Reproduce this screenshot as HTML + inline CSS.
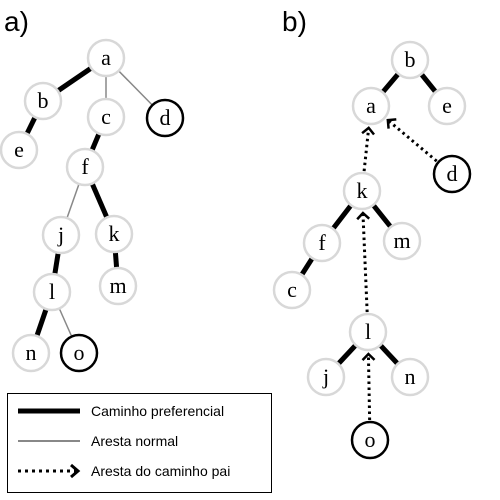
<!DOCTYPE html>
<html><head><meta charset="utf-8"><style>
html,body{margin:0;padding:0;background:#fff;width:500px;height:500px;overflow:hidden}
svg text{font-family:"Liberation Serif",serif}
</style></head><body>
<svg id="s" width="500" height="500" xmlns="http://www.w3.org/2000/svg">
<text x="4" y="31" font-size="28" style="font-family:'Liberation Sans',sans-serif">a)</text>
<text x="282" y="31" font-size="28" style="font-family:'Liberation Sans',sans-serif">b)</text>
<g id="edges"></g><g id="nodes"></g>
<g>
<rect x="7.5" y="393.5" width="264" height="99" fill="#fff" stroke="#000" stroke-width="1"/>
<line x1="18" y1="411" x2="80" y2="411" stroke="#000" stroke-width="5"/>
<text x="91" y="416" font-size="14" style="font-family:'Liberation Sans',sans-serif">Caminho preferencial</text>
<line x1="18" y1="441" x2="80" y2="441" stroke="#888" stroke-width="2"/>
<text x="91" y="446" font-size="14" style="font-family:'Liberation Sans',sans-serif">Aresta normal</text>
<line x1="18" y1="471" x2="76" y2="471" stroke="#000" stroke-width="3" stroke-dasharray="3,4"/>
<polyline points="71,465 78,471 71,477" fill="none" stroke="#000" stroke-width="3"/>
<text x="91" y="476" font-size="14" style="font-family:'Liberation Sans',sans-serif">Aresta do caminho pai</text>
</g>
</svg>
<script>
const nodesA={a:[106,58],b:[43,101],c:[106,117],d:[165,118],e:[19,150],f:[85,167],j:[61,235],k:[114,234],l:[52,292],m:[118,286],n:[31,353],o:[79,353]};
const edgesA=[["a","b","p"],["a","c","n"],["a","d","n"],["b","e","p"],["c","f","p"],["f","j","n"],["f","k","p"],["j","l","p"],["k","m","p"],["l","n","p"],["l","o","n"]];
const boldA=["d","o"];
const nodesB={b:[410,60],a:[371,106],e:[447,106],d:[452,174],k:[362,191],f:[322,243],m:[402,241],c:[292,290],l:[368,332],j:[326,377],n:[410,377],o:[370,440]};
const edgesB=[["b","a","p"],["b","e","p"],["a","k","d"],["a","d","d"],["k","f","p"],["k","m","p"],["f","c","p"],["k","l","d"],["l","j","p"],["l","n","p"],["l","o","d"]];
const boldB=["d","o"];
const R=18,NS="http://www.w3.org/2000/svg";
const E=document.getElementById('edges'),N=document.getElementById('nodes');
function mk(t,a,p){const e=document.createElementNS(NS,t);for(const k in a)e.setAttribute(k,a[k]);p.appendChild(e);return e;}
function draw(nodes,edges,bold,tag){
 edges.forEach(([p,c,t])=>{
  const [x1,y1]=nodes[p],[x2,y2]=nodes[c];
  if(t==="d"){
   const dx=x1-x2,dy=y1-y2,L=Math.hypot(dx,dy),ux=dx/L,uy=dy/L;
   const sx=x2+ux*(R+2),sy=y2+uy*(R+2),ex=x1-ux*(R+4),ey=y1-uy*(R+4);
   const l=mk('line',{x1:sx,y1:sy,x2:ex,y2:ey,stroke:'#000','stroke-width':3,'stroke-dasharray':'2.5,3.5'},E);
   
   
   const px=-uy,py=ux,b=6;
   const ar=mk('polyline',{points:`${ex-ux*b+px*b},${ey-uy*b+py*b} ${ex},${ey} ${ex-ux*b-px*b},${ey-uy*b-py*b}`,fill:'none',stroke:'#000','stroke-width':2.5},E);
   
   
  }else{
   const l=mk('line',{x1,y1,x2,y2,stroke:t==="p"?'#000':'#888','stroke-width':t==="p"?5:1.5},E);
   
   
  }
 });
 for(const k in nodes){
  const [x,y]=nodes[k],b=bold.includes(k);
  const g=mk('g',{},N);
  
  
  mk('circle',{cx:x,cy:y,r:R,fill:'#fff',stroke:b?'#000':'#d8d8d8','stroke-width':b?2.5:2.5},g);
  const t=mk('text',{x:x,y:y+7,'text-anchor':'middle','font-size':22},g);
  t.textContent=k;
 }
}
draw(nodesA,edgesA,boldA,'a');
draw(nodesB,edgesB,boldB,'b');
</script>
</body></html>
